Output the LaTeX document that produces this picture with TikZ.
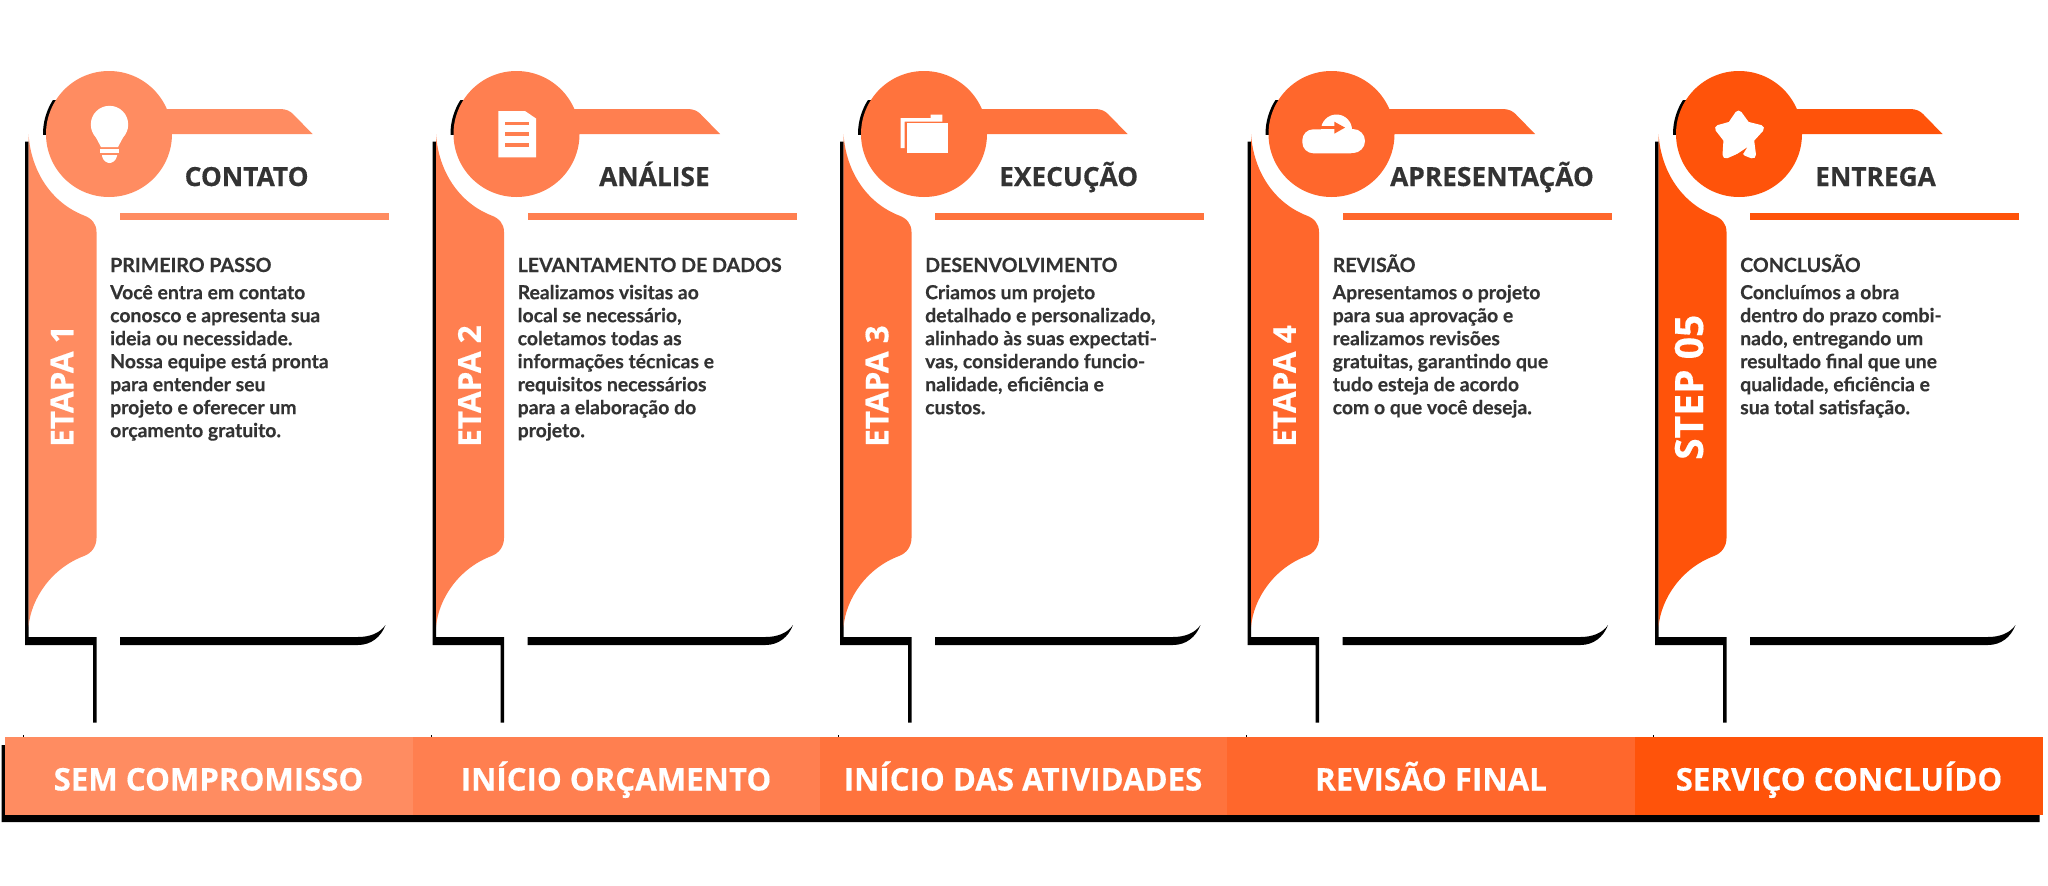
\documentclass[tikz,border=0pt]{standalone}
\usepackage{fontspec}
\setmainfont{Lato}[BoldFeatures={FakeBold=0.35}]
\newfontfamily\headfont{Open Sans}[BoldFeatures={FakeBold=0.4}]
\definecolor{ink}{HTML}{333333}
\definecolor{cardA}{HTML}{FF8C61}
\definecolor{cardB}{HTML}{FF7F50}
\definecolor{cardC}{HTML}{FF733D}
\definecolor{cardD}{HTML}{FF672C}
\definecolor{cardE}{HTML}{FF530A}
\tikzset{
  titletext/.style={anchor=base west,inner sep=0,text=ink,font=\headfont\bfseries\fontsize{26.3}{30}\selectfont},
  leadtext/.style={anchor=base west,inner sep=0,text=ink,font=\bfseries\fontsize{19.6}{23}\selectfont},
  bodytext/.style={anchor=north west,inner sep=0,align=left,text=ink,font=\bfseries\fontsize{19.4}{23}\selectfont},
  sidetext/.style={anchor=base west,inner sep=0,rotate=90,text=white,font=\headfont\bfseries\fontsize{31.5}{36}\selectfont},
  bigside/.style={anchor=base west,inner sep=0,rotate=90,text=white,font=\headfont\bfseries\fontsize{39}{42}\selectfont},
  bartext/.style={anchor=base,inner sep=0,text=white,font=\headfont\bfseries\fontsize{31.2}{36}\selectfont},
}
% #1 shift, #2 colour, #3 name suffix, #4 title x (card-relative), #5 title, #6 lead, #7 body
\newcommand{\stepcard}[7]{%
\begin{scope}[xshift=#1pt]
  % black shadows
  \fill[black] (25,141.5) -- (28.5,141.5) -- (28.5,637) -- (96.5,637) -- (96.5,722.5) -- (93,722.5) -- (93,645) -- (25,645) -- cycle;
  \fill[black] (120,637) -- (358,637) .. controls (370,637) and (380,633) .. (385.5,625) .. controls (381,637) and (371,645) .. (358,645) -- (120,645) -- cycle;
  \begin{scope}
    \clip (30,100) rectangle (60,134);
    \fill[black] (106,134) circle[radius=63];
  \end{scope}
  % side band
  \fill[#2] (28.5,134) .. controls (31,172) and (52,203) .. (84,215.5) .. controls (92,218.5) and (96.5,224) .. (96.5,232)
    -- (96.5,538) .. controls (96.5,546) and (92,553) .. (84,556) .. controls (52,568) and (31,598) .. (28.5,627) -- cycle;
  % tab and disc
  \fill[#2] (140,109) -- (280,109) .. controls (286,109) and (290,111) .. (293,114) -- (312.5,134) -- (140,134) -- cycle;
  \fill[#2] (109,134) circle[radius=63];
  % rule
  \fill[#2] (120,212.5) rectangle (389,220);
  \node[titletext] (title#3) at (#4,186) {#5};
  \node[leadtext] (lead#3) at (110,272) {#6};
  \node[bodytext] (body#3) at (110,283) {\rule{0pt}{16pt}#7};
\end{scope}}
\begin{document}
\begin{tikzpicture}[x=1pt,y=-1pt]
\useasboundingbox (0,0) rectangle (2048,886);
\fill[white] (0,0) rectangle (2048,886);

\stepcard{0}{cardA}{a}{184.5}{CONTATO}{PRIMEIRO PASSO}{Você entra em contato\\conosco e apresenta sua\\ideia ou necessidade.\\Nossa equipe está pronta\\para entender seu\\projeto e oferecer um\\orçamento gratuito.}
\stepcard{407.5}{cardB}{b}{191.5}{ANÁLISE}{LEVANTAMENTO DE DADOS}{Realizamos visitas ao\\local se necessário,\\coletamos todas as\\informações técnicas e\\requisitos necessários\\para a elaboração do\\projeto.}
\stepcard{815}{cardC}{c}{184}{EXECUÇÃO}{DESENVOLVIMENTO}{Criamos um projeto\\detalhado e personalizado,\\alinhado às suas expectati-\\vas, considerando funcio-\\nalidade, eficiência e\\custos.}
\stepcard{1222.5}{cardD}{d}{167.5}{APRESENTAÇÃO}{REVISÃO}{Apresentamos o projeto\\para sua aprovação e\\realizamos revisões\\gratuitas, garantindo que\\tudo esteja de acordo\\com o que você deseja.}
\stepcard{1630}{cardE}{e}{185}{ENTREGA}{CONCLUSÃO}{Concluímos a obra\\dentro do prazo combi-\\nado, entregando um\\resultado final que une\\qualidade, eficiência e\\sua total satisfação.}

% side labels
\node[sidetext] (sidea) at (73.3,447) {ETAPA 1};
\node[sidetext] (sideb) at (480.8,447) {ETAPA 2};
\node[sidetext] (sidec) at (888.3,447) {ETAPA 3};
\node[sidetext] (sided) at (1295.8,447) {ETAPA 4};
\node[bigside] (sidee) at (1703,460) {STEP 05};

% icon: bulb
\fill[white] (109.5,124.5) circle[radius=18.7];
\fill[white] (92.5,131) -- (101,147) -- (118,147) -- (126.5,131) -- cycle;
\fill[white] (100,149) rectangle (119,153);
\fill[white] (102,155) -- (117,155) -- (117,156) .. controls (116,161) and (112,163) .. (109.5,163) .. controls (107,163) and (103,161) .. (102,156) -- cycle;
% icon: document
\fill[white] (498.3,111) -- (525,111) -- (536,118.5) -- (536,157.3) -- (498.3,157.3) -- cycle;
\fill[cardB] (505,121.7) rectangle (529,125);
\fill[cardB] (505,132.3) rectangle (529,136);
\fill[cardB] (505,143) rectangle (529,146.7);
% icon: folders
\fill[white] (900.7,118) -- (930.7,118) -- (930.7,114.7) -- (942.3,114.7) -- (942.3,121.5) -- (904.7,121.5) -- (904.7,148) -- (900.7,148) -- cycle;
\fill[white] (906.7,123.3) rectangle (948.3,153.3);
% icon: cloud
\fill[white] (1336.5,130) circle[radius=15.5];
\fill[white] (1353,141) circle[radius=12];
\fill[white,rounded corners=11pt] (1302.3,129.3) rectangle (1361.7,153.3);
\fill[cardD] (1315,125.6) rectangle (1335,129.2);
\fill[cardD] (1334.3,121.7) -- (1345,127.6) -- (1334.3,133.7) -- cycle;
\fill[cardD] (1315,114) rectangle (1321,125.6);
% icon: star
\fill[white,draw=white,line width=7pt,line join=round] (1738.5,114) -- (1746.5,125) -- (1760.5,128.5) -- (1750.5,139.5) -- (1752.5,155) -- (1738.5,149.5) -- (1726,155) -- (1727,139.5) -- (1718.5,128.5) -- (1731,125) -- cycle;
\fill[cardE] (1727,161) -- (1747,147.5) -- (1743,154) -- (1748.5,161) -- cycle;

% bottom strip
\fill[black] (1.5,745) -- (5,745) -- (5,815) -- (2039.5,815) -- (2039.5,822) -- (1.5,822) -- cycle;
\foreach \tx in {23.5,431,838.5,1246,1653.5} \fill[black] (\tx-0.5,734.5) rectangle (\tx+0.5,737);
\fill[cardA] (5,737) rectangle (412.5,815);
\fill[cardB] (412.5,737) rectangle (820,815);
\fill[cardC] (820,737) rectangle (1227,815);
\fill[cardD] (1227,737) rectangle (1635,815);
\fill[cardE] (1635,737) rectangle (2043,815);
\node[bartext] (bara) at (208.5,790.5) {SEM COMPROMISSO};
\node[bartext] (barb) at (616,790.5) {INÍCIO ORÇAMENTO};
\node[bartext] (barc) at (1023,790.5) {INÍCIO DAS ATIVIDADES};
\node[bartext] (bard) at (1431,790.5) {REVISÃO FINAL};
\node[bartext] (bare) at (1839,790.5) {SERVIÇO CONCLUÍDO};
\end{tikzpicture}
\end{document}
